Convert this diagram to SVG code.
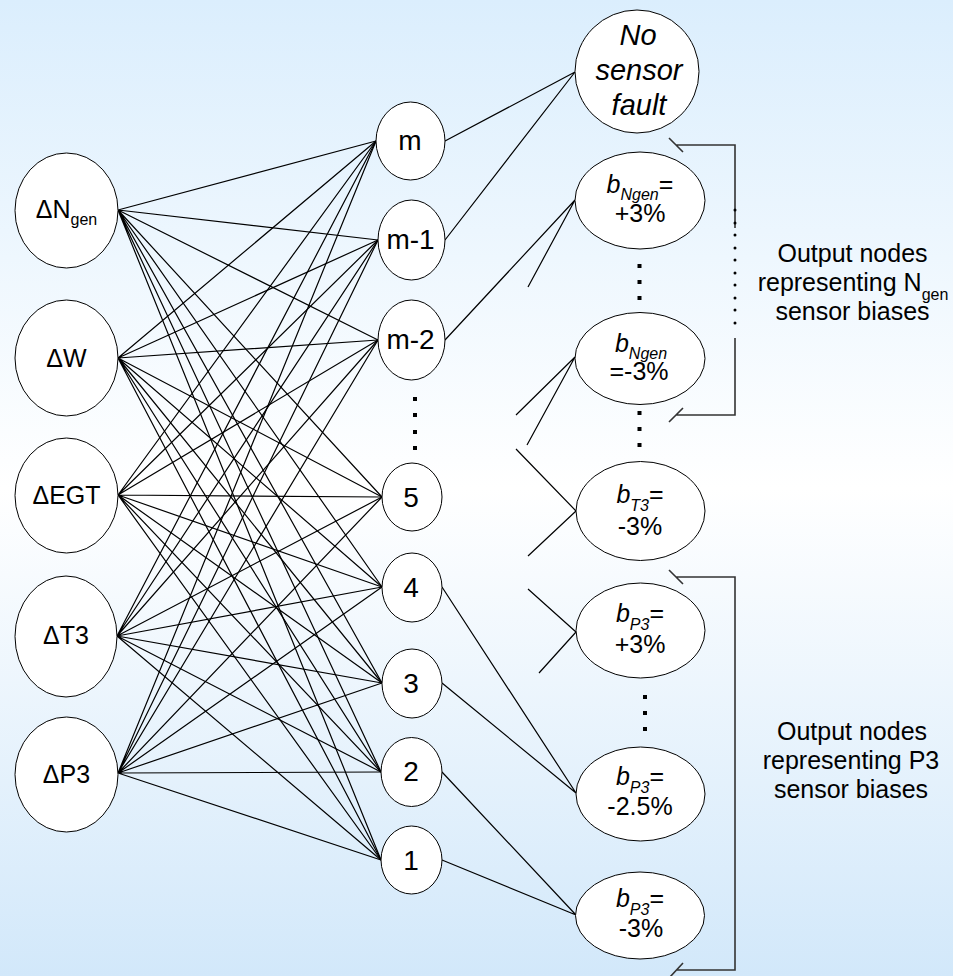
<svg xmlns="http://www.w3.org/2000/svg" width="953" height="976" viewBox="0 0 953 976">
<defs>
<linearGradient id="bg" x1="0" y1="0" x2="0" y2="1">
<stop offset="0" stop-color="#dbeefd"/>
<stop offset="0.5" stop-color="#ffffff"/>
<stop offset="1" stop-color="#d2e8fa"/>
</linearGradient>
<style>
.node{fill:#fff;stroke:#000;stroke-width:1}
.conn{stroke:#000;stroke-width:1.2;fill:none}
.br{stroke:#333;stroke-width:1.6;fill:none}
.t{font-family:"Liberation Sans",Arial,sans-serif;fill:#000;text-anchor:middle}
.in{font-size:25px}
.hid{font-size:28px}
.out{font-size:25px}
.it{font-style:italic}
.sub{font-size:16px}
.dot{fill:#000}
</style>
</defs>
<rect width="953" height="976" fill="url(#bg)"/>
<g id="connectors" class="conn">
<path d="M118 210L376 141M118 210L378 240M118 210L378 340M118 210L382 497M118 210L382 587M118 210L382 683M118 210L381 772M118 210L381 860"/>
<path d="M118 358L376 141M118 358L378 240M118 358L378 340M118 358L382 497M118 358L382 587M118 358L382 683M118 358L381 772M118 358L381 860"/>
<path d="M118 495L376 141M118 495L378 240M118 495L378 340M118 495L382 497M118 495L382 587M118 495L382 683M118 495L381 772M118 495L381 860"/>
<path d="M117 636L376 141M117 636L378 240M117 636L378 340M117 636L382 497M117 636L382 587M117 636L382 683M117 636L381 772M117 636L381 860"/>
<path d="M118 773L376 141M118 773L378 240M118 773L378 340M118 773L382 497M118 773L382 587M118 773L382 683M118 773L381 772M118 773L381 860"/>
<path d="M445 141L575 72M445 240L575 72M445 340L575 200M528 287L575 200M516 415L575 357M527 445L575 357M516 449L576 511M528 556L576 511M528 589L576 632M539 673L576 632M442 587L576 793M442 683L576 793M442 772L576 915M442 860L576 915"/>
</g>
<g id="in-ngen"><ellipse class="node" cx="66.5" cy="210.5" rx="51.5" ry="57.5"/><text class="t in" x="66.5" y="218">ΔN<tspan class="sub" dy="7">gen</tspan></text></g>
<g id="in-w"><ellipse class="node" cx="66.5" cy="358" rx="51.5" ry="58"/><text class="t in" x="66.5" y="367">ΔW</text></g>
<g id="in-egt"><ellipse class="node" cx="66.5" cy="495.5" rx="51.5" ry="57.5"/><text class="t in" x="66.5" y="504">ΔEGT</text></g>
<g id="in-t3"><ellipse class="node" cx="66" cy="636.5" rx="51" ry="60.5"/><text class="t in" x="66" y="644">ΔT3</text></g>
<g id="in-p3"><ellipse class="node" cx="66.5" cy="774.5" rx="51.5" ry="57.5"/><text class="t in" x="66.5" y="783">ΔP3</text></g>
<g id="h-m"><ellipse class="node" cx="410.5" cy="141" rx="34.5" ry="39"/><text class="t hid" x="410" y="150">m</text></g>
<g id="h-m1"><ellipse class="node" cx="411.5" cy="240" rx="33.5" ry="40"/><text class="t hid" x="410.5" y="249">m-1</text></g>
<g id="h-m2"><ellipse class="node" cx="411.5" cy="340" rx="33.5" ry="40"/><text class="t hid" x="410.5" y="349">m-2</text></g>
<g id="h-dots" class="dot"><rect x="413" y="397" width="4" height="4"/><rect x="413" y="413" width="4" height="4"/><rect x="413" y="430" width="4" height="4"/><rect x="413" y="446" width="4" height="4"/></g>
<g id="h-5"><ellipse class="node" cx="412" cy="497" rx="30" ry="34"/><text class="t hid" x="411" y="506.5">5</text></g>
<g id="h-4"><ellipse class="node" cx="412" cy="587.5" rx="30" ry="34.5"/><text class="t hid" x="411" y="597">4</text></g>
<g id="h-3"><ellipse class="node" cx="412" cy="683.5" rx="30" ry="34.5"/><text class="t hid" x="411" y="693">3</text></g>
<g id="h-2"><ellipse class="node" cx="411.5" cy="772" rx="30.5" ry="34.5"/><text class="t hid" x="411" y="781">2</text></g>
<g id="h-1"><ellipse class="node" cx="411.5" cy="860" rx="30.5" ry="34"/><text class="t hid" x="411" y="869.5">1</text></g>
<g id="o-nsf"><ellipse class="node" cx="637" cy="71.5" rx="62" ry="61.5"/><text class="t it" font-size="29" x="638" y="45">No</text><text class="t it" font-size="29" x="639" y="80">sensor</text><text class="t it" font-size="29" x="639" y="115">fault</text></g>
<g id="o-ngen-p3"><ellipse class="node" cx="640" cy="200.5" rx="65" ry="48.5"/><text class="t out" x="640" y="193"><tspan class="it">b</tspan><tspan class="sub it" dy="7">Ngen</tspan><tspan dy="-7">=</tspan></text><text class="t out" x="640" y="222">+3%</text></g>
<g id="o-dots1" class="dot"><rect x="637.5" y="264" width="4" height="4"/><rect x="637.5" y="280" width="4" height="4"/><rect x="637.5" y="296" width="4" height="4"/></g>
<g id="o-ngen-m3"><ellipse class="node" cx="640" cy="358.5" rx="65" ry="46"/><text class="t out" x="641" y="352"><tspan class="it">b</tspan><tspan class="sub it" dy="7">Ngen</tspan></text><text class="t out" x="639" y="380">=-3%</text></g>
<g id="o-dots2" class="dot"><rect x="637.5" y="411" width="4" height="4"/><rect x="637.5" y="427" width="4" height="4"/><rect x="637.5" y="443" width="4" height="4"/></g>
<g id="o-t3"><ellipse class="node" cx="640.5" cy="511" rx="64.5" ry="49.5"/><text class="t out" x="640" y="503"><tspan class="it">b</tspan><tspan class="sub it" dy="8">T3</tspan><tspan dy="-8">=</tspan></text><text class="t out" x="640" y="535">-3%</text></g>
<g id="o-p3-p3"><ellipse class="node" cx="640.5" cy="630.5" rx="64.5" ry="47.5"/><text class="t out" x="640" y="622"><tspan class="it">b</tspan><tspan class="sub it" dy="8">P3</tspan><tspan dy="-8">=</tspan></text><text class="t out" x="640" y="653">+3%</text></g>
<g id="o-dots3" class="dot"><rect x="643" y="695" width="4" height="4"/><rect x="643" y="711" width="4" height="4"/><rect x="643" y="727" width="4" height="4"/></g>
<g id="o-p3-m25"><ellipse class="node" cx="640.5" cy="794" rx="64.5" ry="47"/><text class="t out" x="640" y="785"><tspan class="it">b</tspan><tspan class="sub it" dy="8">P3</tspan><tspan dy="-8">=</tspan></text><text class="t out" x="640" y="815">-2.5%</text></g>
<g id="o-p3-m3"><ellipse class="node" cx="640" cy="915.5" rx="64.5" ry="43.5"/><text class="t out" x="640" y="907"><tspan class="it">b</tspan><tspan class="sub it" dy="8">P3</tspan><tspan dy="-8">=</tspan></text><text class="t out" x="641" y="937">-3%</text></g>
<g id="bracket-ngen" class="br"><path d="M669 138L683 152M676 145H735V228M735 338V415H676M669 422L683 408"/><g class="dot" stroke="none"><circle cx="735" cy="210" r="1.5"/><circle cx="735" cy="223" r="1.5"/><circle cx="735" cy="235" r="1.5"/><circle cx="735" cy="248" r="1.5"/><circle cx="735" cy="260" r="1.5"/><circle cx="735" cy="273" r="1.5"/><circle cx="735" cy="285" r="1.5"/><circle cx="735" cy="298" r="1.5"/><circle cx="735" cy="310" r="1.5"/><circle cx="735" cy="323" r="1.5"/></g></g>
<g id="bracket-p3" class="br"><path d="M669 570L683 584M676 577H735V970H676M670 977L683 963"/></g>
<g id="label-ngen"><text class="t" font-size="25" x="852.5" y="262">Output nodes</text><text class="t" font-size="25" x="853" y="291">representing N<tspan class="sub" dy="9">gen</tspan></text><text class="t" font-size="25" x="852.5" y="320">sensor biases</text></g>
<g id="label-p3"><text class="t" font-size="25" x="852" y="740">Output nodes</text><text class="t" font-size="25" x="851" y="769">representing P3</text><text class="t" font-size="25" x="851" y="798">sensor biases</text></g>
</svg>
